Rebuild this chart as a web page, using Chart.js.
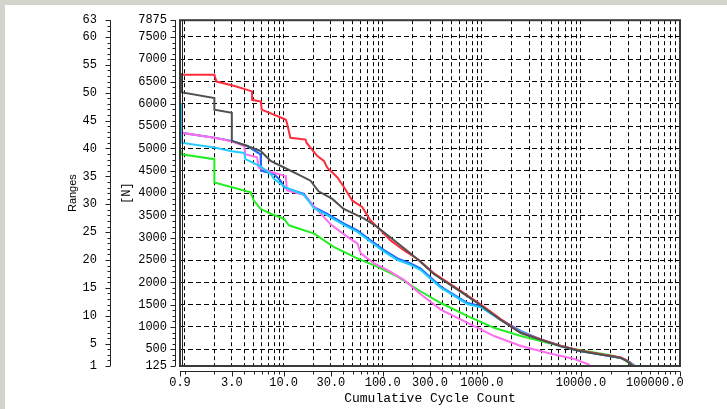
<!DOCTYPE html>
<html>
<head>
<meta charset="utf-8">
<script src="https://cdn.jsdelivr.net/npm/chart.js@4.4.1/dist/chart.umd.min.js"></script>
<style>
  html, body { margin: 0; padding: 0; background: #d4d4cc; overflow: hidden; }
  #panel { position: absolute; left: 5px; top: 5px; width: 722px; height: 404px; background: #fff; }
  canvas { position: absolute; left: 0; top: 0; }
</style>
</head>
<body>
<div id="panel"></div>
<canvas id="rangeChart" width="727" height="409"></canvas>
<script>
// --- axis setup ---
const xTickValues = [0.9, 3, 10, 30, 100, 300, 1000, 10000, 100000];
const xTickLabels = ['0.9', '3.0', '10.0', '30.0', '100.0', '300.0', '1000.0', '10000.0', '100000.0'];
const loadTickLabels = [125, 500, 1000, 1500, 2000, 2500, 3000, 3500, 4000, 4500, 5000, 5500, 6000, 6500, 7000, 7500, 7875];
const rangeTickLabels = [1, 5, 10, 15, 20, 25, 30, 35, 40, 45, 50, 55, 60, 63];
const loadMin = 125, loadMax = 7875, loadStep = 125;
const rangeMin = 1, rangeMax = 63;

// --- series: cumulative cycles vs load range [N] ---
const redCycles = [0.9, 2.0, 2.1, 3.2, 4.8, 4.8, 5.9, 6.0, 10.5, 10.8, 11.7, 16.7, 17, 21.9, 25.5, 27.6, 34.9, 40.7, 49.4, 62, 75, 95, 120, 163, 232, 330, 660, 980, 1560, 2480, 3950, 6300, 10000, 15900, 25300, 29500, 33500];
const redLoads = [6650, 6650, 6500, 6400, 6280, 6090, 6050, 5870, 5650, 5570, 5240, 5200, 5130, 4830, 4720, 4570, 4350, 4130, 3830, 3690, 3390, 3170, 2940, 2720, 2500, 2200, 1760, 1500, 1170, 870, 720, 575, 465, 390, 315, 240, 140];

const greyCycles = [0.9, 0.92, 2.0, 2.0, 3.0, 3.0, 4.3, 5.85, 7.4, 10.1, 13.8, 18.7, 22.5, 31, 40, 65, 88, 130, 191, 240, 330, 660, 980, 1560, 2480, 3950, 6300, 10000, 15900, 25300, 29500, 32500];
const greyLoads = [6690, 6260, 6130, 5870, 5800, 5170, 5055, 4944, 4722, 4574, 4426, 4278, 4040, 3870, 3650, 3426, 3240, 2944, 2648, 2462, 2180, 1740, 1480, 1150, 860, 710, 565, 455, 380, 305, 230, 140];

const blueCycles = [0.9, 0.93, 2.0, 3.0, 4.3, 5.85, 5.9, 8, 9.3, 10.1, 16, 20.3, 27.6, 40.7, 55.5, 75.5, 103, 141, 191, 240, 385, 720, 980, 1560, 2480, 3950, 6300, 10000, 15900, 25300, 30000, 35000];
const blueLoads = [5770, 5350, 5240, 5170, 5055, 4870, 4500, 4426, 4278, 4129, 3982, 3684, 3537, 3315, 3167, 2944, 2722, 2537, 2426, 2315, 1907, 1537, 1463, 1167, 907, 722, 574, 463, 385, 310, 235, 130];

const cyanCycles = [0.9, 0.92, 2.0, 3.0, 4.0, 4.1, 5.85, 7.4, 8, 10.5, 16, 20.3, 27.6, 40.7, 55.5, 75.5, 103, 141, 191, 240, 385, 720, 980, 1560, 2480, 3950, 6300, 10000, 15900, 25300, 30000, 35000];
const cyanLoads = [6020, 5130, 5020, 4940, 4900, 4760, 4600, 4430, 4315, 4129, 3960, 3660, 3500, 3280, 3130, 2910, 2690, 2500, 2390, 2280, 1880, 1510, 1440, 1150, 890, 710, 565, 455, 380, 305, 230, 130];

const magentaCycles = [0.9, 0.93, 2.0, 2.9, 4.0, 4.1, 5.4, 5.6, 7.4, 10.5, 10.8, 16, 20.3, 29.8, 44, 55.5, 60, 82, 111, 164, 240, 385, 720, 1330, 2480, 5000, 8600, 12300];
const magentaLoads = [5870, 5350, 5240, 5170, 5055, 4870, 4800, 4570, 4480, 4380, 4060, 3960, 3700, 3300, 3018, 2870, 2648, 2426, 2278, 2055, 1740, 1389, 1093, 796, 574, 400, 280, 150];

const greenCycles = [0.9, 0.93, 2.0, 2.0, 4.65, 5.0, 5.85, 7.4, 10.1, 11.3, 20.3, 32, 55.5, 88, 141, 240, 385, 720, 1330, 2480, 4600, 8600, 13700, 21700, 27000, 31700];
const greenLoads = [5018, 4870, 4759, 4240, 4018, 3833, 3648, 3537, 3426, 3278, 3093, 2796, 2537, 2352, 2129, 1800, 1537, 1241, 981, 796, 648, 500, 426, 352, 278, 160];

const pts = (xs, ys) => xs.map((x, i) => ({ x: x, y: ys[i] }));

function line(label, xs, ys, color) {
    return {
        label: label,
        data: pts(xs, ys),
        borderColor: color,
        borderWidth: 2,
        pointRadius: 0,
        tension: 0,
        fill: false
    };
}

// tick lists incl. unlabeled minor ticks
function logTicks() {
    const out = [{ value: 0.9 }];
    for (let e = 0; e < 5; e++) {
        for (let m = 1; m <= 9; m++) out.push({ value: m * Math.pow(10, e) });
    }
    out.push({ value: 100000 });
    return out;
}
function stepTicks(min, max, step) {
    const out = [];
    for (let v = min; v <= max; v += step) out.push({ value: v });
    return out;
}

// frame + axis lines sitting just outside the plot, like the original plot
const axisMarks = {
    id: 'axisMarks',
    afterDraw(chart) {
        const { ctx, chartArea: a } = chart;
        const xs = chart.scales.x, ys = chart.scales.y, rs = chart.scales.yRanges;
        ctx.save();
        ctx.strokeStyle = '#3a3a3a';
        ctx.lineWidth = 2;
        ctx.strokeRect(a.left, a.top, a.right - a.left, a.bottom - a.top);

        ctx.strokeStyle = '#222';
        ctx.lineWidth = 1;
        ctx.beginPath();
        ctx.moveTo(a.left + 2.5, a.top);
        ctx.lineTo(a.left + 2.5, a.bottom);

        const ax = a.bottom + 5.5;
        ctx.moveTo(a.left, ax);
        ctx.lineTo(a.right, ax);
        xs.ticks.forEach(t => {
            const px = Math.round(xs.getPixelForValue(t.value)) + 0.5;
            ctx.moveTo(px, ax);
            ctx.lineTo(px, ax + (t.label ? 5 : 3));
        });

        [[ys, a.left - 4.5], [rs, rs.right - 7.5]].forEach(([s, lx]) => {
            ctx.moveTo(lx, a.top);
            ctx.lineTo(lx, a.bottom);
            s.ticks.forEach(t => {
                const py = Math.round(s.getPixelForValue(t.value)) + 0.5;
                ctx.moveTo(lx, py);
                ctx.lineTo(lx - (t.label ? 5 : 3), py);
            });
        });
        ctx.stroke();
        ctx.restore();
    }
};

Chart.defaults.color = '#000';
Chart.defaults.font.family = '"Liberation Mono", "DejaVu Sans Mono", monospace';
Chart.defaults.font.size = 12;

const ctx = document.getElementById('rangeChart').getContext('2d');
const rangeChart = new Chart(ctx, {
    type: 'line',
    data: {
        datasets: [
            line('grey', greyCycles, greyLoads, '#505050'),
            line('red', redCycles, redLoads, '#ff2d3c'),
            line('cyan', cyanCycles, cyanLoads, '#22ccff'),
            line('magenta', magentaCycles, magentaLoads, '#ff6cf0'),
            line('blue', blueCycles, blueLoads, '#1a66ff'),
            line('green', greenCycles, greenLoads, '#22ee22')
        ]
    },
    plugins: [axisMarks],
    options: {
        responsive: false,
        animation: false,
        layout: { autoPadding: false, padding: { left: 58, top: 18, right: 47, bottom: 0 } },
        plugins: { legend: { display: false }, tooltip: { enabled: false } },
        scales: {
            x: {
                type: 'logarithmic',
                min: 0.9,
                max: 100000,
                afterBuildTicks: s => { s.ticks = logTicks(); },
                afterFit: s => {
                    s.height = 43;
                    // keep the wide end label from shrinking the plot
                    s.paddingLeft = 0;
                    s.paddingRight = 0;
                },
                grid: {
                    drawTicks: false,
                    lineWidth: 1,
                    color: c => (c.tick && c.tick.value > 0.9 && c.tick.value < 100000) ? '#000' : 'rgba(0,0,0,0)'
                },
                border: { display: false, dash: [4, 3] },
                ticks: {
                    autoSkip: false,
                    maxRotation: 0,
                    minRotation: 0,
                    padding: 10,
                    callback: v => {
                        const i = xTickValues.indexOf(v);
                        if (i < 0) return '';
                        // last label is pushed left so it stays inside the frame
                        return i === xTickValues.length - 1 ? xTickLabels[i] + '       ' : xTickLabels[i];
                    }
                },
                title: {
                    display: true,
                    text: 'Cumulative Cycle Count',
                    font: { size: 13 },
                    padding: { top: 0, bottom: 3 }
                }
            },
            y: {
                type: 'linear',
                position: 'left',
                weight: 0,
                min: loadMin,
                max: loadMax,
                afterBuildTicks: s => { s.ticks = stepTicks(loadMin, loadMax, loadStep); },
                afterFit: s => { s.width = 62; },
                grid: {
                    drawTicks: false,
                    lineWidth: 1,
                    color: c => (c.tick && c.tick.value % 500 === 0) ? '#000' : 'rgba(0,0,0,0)'
                },
                border: { display: false, dash: [5, 3] },
                ticks: {
                    autoSkip: false,
                    padding: 13,
                    callback: v => loadTickLabels.includes(v) ? String(v) : ''
                },
                title: {
                    display: true,
                    text: '[N]',
                    font: { size: 12 },
                    padding: { top: 2, bottom: 0 }
                }
            },
            yRanges: {
                type: 'linear',
                axis: 'y',
                position: 'left',
                weight: 1,
                min: rangeMin,
                max: rangeMax,
                afterBuildTicks: s => { s.ticks = stepTicks(rangeMin, rangeMax, 1); },
                afterFit: s => { s.width = 60; },
                grid: { display: false },
                border: { display: false },
                ticks: {
                    autoSkip: false,
                    padding: 13,
                    callback: v => rangeTickLabels.includes(v) ? String(v) : ''
                },
                title: {
                    display: true,
                    text: 'Ranges',
                    font: { family: '"Liberation Sans", Arial, sans-serif', size: 11 },
                    padding: { top: 8, bottom: 0 }
                }
            }
        }
    }
});
</script>
</body>
</html>
